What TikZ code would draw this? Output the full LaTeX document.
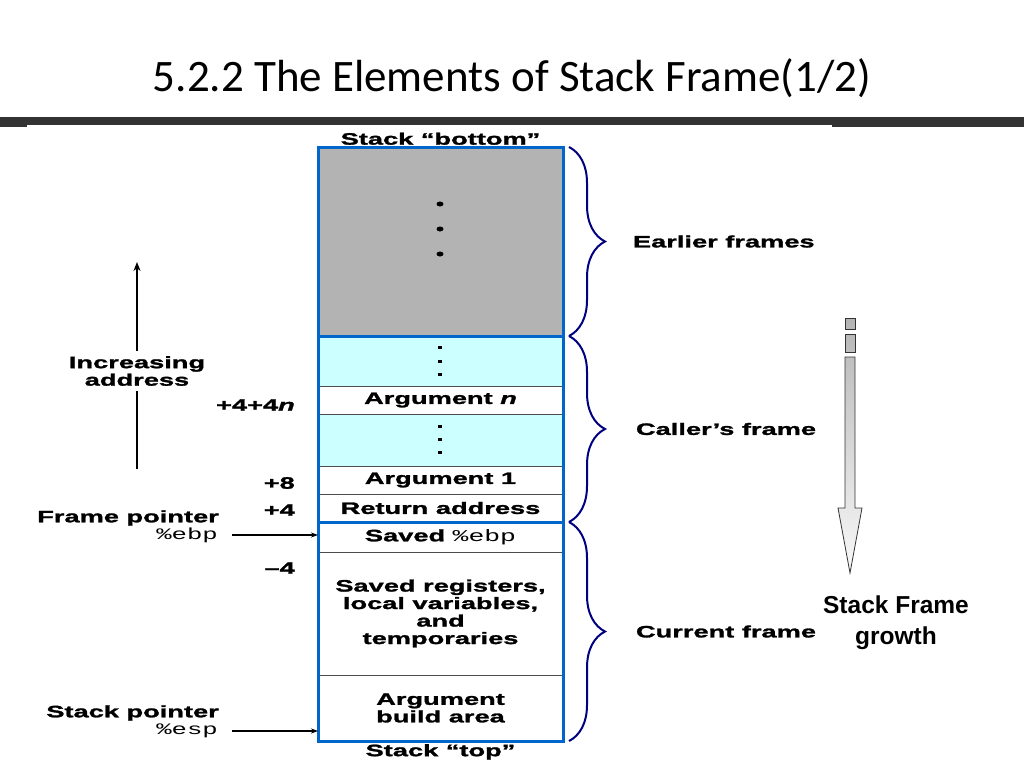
\documentclass[tikz,border=0pt]{standalone}
\usepackage{fontspec}
\usepackage{tikz}
\usetikzlibrary{arrows.meta,positioning,decorations.pathreplacing}

\setmainfont{Liberation Sans}
\newfontfamily\titlefont{Carlito}
\newfontfamily\widefont[FakeStretch=1.65,FakeBold=1.6]{Liberation Sans}
\newfontfamily\regfont[FakeStretch=1.6]{Liberation Mono}

\definecolor{stackblue}{RGB}{0,102,204}
\definecolor{stackcyan}{RGB}{204,255,255}
\definecolor{stackgray}{RGB}{179,179,179}
\definecolor{bracenavy}{RGB}{0,0,128}

\tikzset{
  cell/.style={draw=gray!60!black, line width=0.8pt, minimum width=245pt,
    minimum height=#1, inner sep=0pt, outer sep=0pt, align=center,
    font=\widefont\bfseries\fontsize{16.5}{17.5}\selectfont},
  lbl/.style={font=\widefont\bfseries\fontsize{16.5}{17.5}\selectfont, inner sep=1pt},
  reg/.style={font=\regfont\fontsize{16}{17}\selectfont, inner sep=1pt},
  blueline/.style={draw=stackblue, line width=3pt},
  framebrace/.style={draw=bracenavy, line width=2pt,
    decorate, decoration={brace, amplitude=36pt}},
  ptrarrow/.style={-{Stealth[length=7pt,width=5pt]}, line width=1.2pt}
}

\begin{document}
\begin{tikzpicture}[x=1pt,y=-1pt]
    \useasboundingbox (0,0) rectangle (1024,768);

    % title and band
    \node[font=\titlefont\fontsize{45}{54}\selectfont] (title) at (512,78) {5.2.2 The Elements of Stack Frame(1/2)};
    \fill[black!80] (0,117) rectangle (1024,127);
    \fill[white] (27,124.5) rectangle (832,130);

    % the stack cells
    \node[cell=189pt, fill=stackgray, anchor=north] (earlier) at (440.5,147) {};
    \node[cell=50pt, fill=stackcyan, below=0pt of earlier] (dotsA) {};
    \node[cell=28pt, below=0pt of dotsA] (argn) {Argument {\itshape n}};
    \node[cell=52pt, fill=stackcyan, below=0pt of argn] (dotsB) {};
    \node[cell=28pt, below=0pt of dotsB] (argone) {Argument 1};
    \node[cell=28pt, below=0pt of argone] (retaddr) {Return address};
    \node[cell=30pt, below=0pt of retaddr] (savedebp) {Saved {\regfont\mdseries\%ebp}};
    \node[cell=123pt, below=0pt of savedebp] (locals) {Saved registers,\\local variables,\\and\\temporaries};
    \node[cell=66pt, below=0pt of locals] (buildarea) {Argument\\build area};

    % outline
    \draw[blueline] (earlier.north west) rectangle (buildarea.south east);
    \draw[blueline] (earlier.south west) -- (earlier.south east);
    \draw[blueline] (retaddr.south west) -- (retaddr.south east);

    % dots
    \foreach \d in {204,229,254}
        \fill (440,\d) ellipse (3.5 and 2.5);
    \foreach \d in {347,361,374,426,439,452}
        \fill (438,\d-1.5) rectangle (442,\d+1.5);

    \node[lbl, above=1pt of earlier] (bottomlbl) {Stack “bottom”};
    \node[lbl, below=2pt of buildarea] (toplbl) {Stack “top”};

    % braces
    \draw[framebrace] ([xshift=6pt]earlier.north east) -- ([xshift=6pt]earlier.south east)
        node[midway, anchor=west, xshift=62pt, lbl] (earlierlbl) {Earlier frames};
    \draw[framebrace] ([xshift=6pt]dotsA.north east) -- ([xshift=6pt]retaddr.south east)
        node[midway, anchor=west, xshift=65pt, lbl] (callerlbl) {Caller’s frame};
    \draw[framebrace] ([xshift=6pt]savedebp.north east) -- ([xshift=6pt]buildarea.south east)
        node[midway, anchor=west, xshift=65pt, lbl] (currentlbl) {Current frame};

    % offsets
    \node[lbl, anchor=east] (offn) at (296,405) {+4+4{\itshape n}};
    \node[lbl, anchor=east] (offeight) at (296,483) {+8};
    \node[lbl, anchor=east] (offfour) at (296,510) {+4};
    \node[lbl, anchor=east] (offminus) at (296,568) {–4};

    % increasing address
    \node[lbl, align=center] (incr) at (137,371) {Increasing\\address};
    \coordinate (addrtop) at (137,262);
    \draw[line width=2.5pt] ([yshift=-4pt]incr.south) -- ++(0,78);
    \draw[line width=2.5pt, -{Stealth[length=9pt,width=7pt]}] ([yshift=4pt]incr.north) -- (addrtop);

    % pointers
    \node[lbl, anchor=east] (fplbl) at (220,518) {Frame pointer};
    \node[reg, anchor=east] (ebplbl) at (219,535) {\%ebp};
    \draw[ptrarrow] ([xshift=13pt]ebplbl.east) -- (ebplbl.east -| savedebp.west);
    \node[lbl, anchor=east] (splbl) at (220,713) {Stack pointer};
    \node[reg, anchor=east] (esplbl) at (219,731) {\%esp};
    \draw[ptrarrow] ([xshift=13pt]esplbl.east) -- (esplbl.east -| buildarea.west);

    % growth arrow
    \draw[gray!40!black, line width=0.8pt, top color=gray!60, bottom color=gray!55] (845,318) rectangle (855,329);
    \draw[gray!40!black, line width=0.8pt, top color=gray!55, bottom color=gray!50] (845,334) rectangle (855,352);
    \draw[gray!40!black, line width=0.8pt, top color=gray!50, bottom color=gray!5]
        (845,357) -- (855,357) -- (855,508) -- (862,508) -- (850,573) -- (838,508) -- (845,508) -- cycle;
    \node[font=\bfseries\fontsize{24.5}{31}\selectfont, align=center] (growthlbl) at (896,623) {Stack Frame\\growth};
\end{tikzpicture}
\end{document}
